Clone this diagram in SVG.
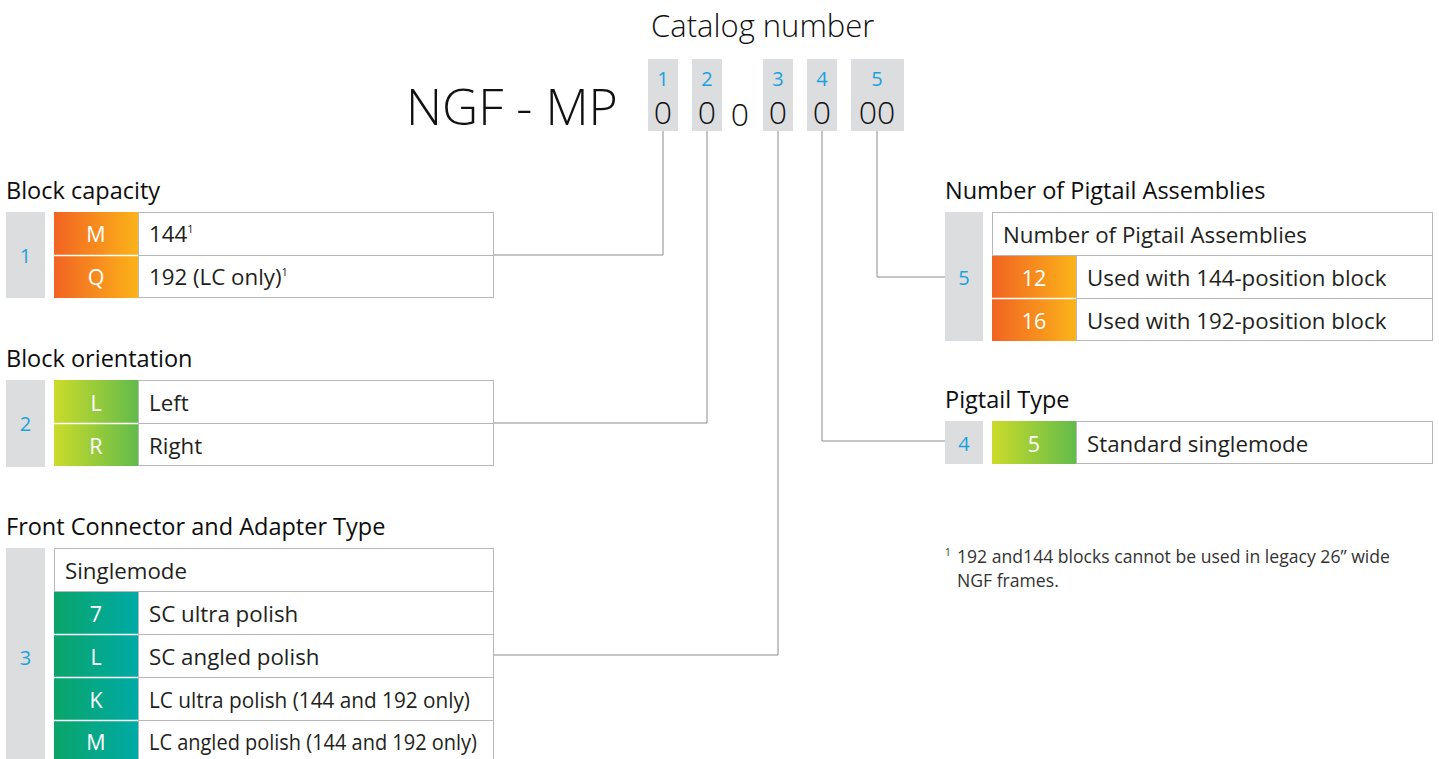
<svg xmlns="http://www.w3.org/2000/svg" width="1439" height="759" viewBox="0 0 1439 759">
<style>
text{font-family:"Open Sans","Noto Sans","Liberation Sans",sans-serif;}
.title{font-size:23.5px;fill:#0d0d0d;}
.cell{font-size:22.3px;fill:#231f20;}
.code{font-size:21.5px;fill:#ffffff;text-anchor:middle;}
.num{font-size:20px;fill:#1ba1dc;text-anchor:middle;}
.gray{fill:#dcdddf;}
.box{fill:#ffffff;stroke:#b8b8b8;stroke-width:1;}
.sep{stroke:#ffffff;stroke-width:1.5;}
.big{font-weight:300;fill:#111;}
.conn{fill:none;stroke:#8c8c8c;stroke-width:1;}
.note{font-size:17.6px;fill:#333;}
</style>
<defs>
<linearGradient id="gOr" x1="0" y1="0" x2="1" y2="0"><stop offset="0" stop-color="#f26322"/><stop offset="1" stop-color="#fbb319"/></linearGradient>
<linearGradient id="gGr" x1="0" y1="0" x2="1" y2="0"><stop offset="0" stop-color="#cbdb2a"/><stop offset="1" stop-color="#62bb4b"/></linearGradient>
<linearGradient id="gTe" x1="0" y1="0" x2="1" y2="0"><stop offset="0" stop-color="#0aa56a"/><stop offset="1" stop-color="#00aaa6"/></linearGradient>
</defs>

<g id="header">
<text x="651" y="37" class="big" font-size="31">Catalog number</text>
<text x="406" y="125" class="big" font-size="50">NGF - MP</text>
<rect class="gray" x="648" y="59" width="30" height="72"/>
<rect class="gray" x="692" y="59" width="30" height="72"/>
<rect class="gray" x="763" y="59" width="30" height="72"/>
<rect class="gray" x="807" y="59" width="30" height="72"/>
<rect class="gray" x="851" y="59" width="53" height="72"/>
<text class="num" x="663" y="86">1</text>
<text class="num" x="707" y="86">2</text>
<text class="num" x="778" y="86">3</text>
<text class="num" x="822" y="86">4</text>
<text class="num" x="877" y="86">5</text>
<g class="big" font-size="32" text-anchor="middle">
<text x="663" y="124">0</text>
<text x="707" y="124">0</text>
<text x="740" y="126">0</text>
<text x="778" y="124">0</text>
<text x="822" y="124">0</text>
<text x="877" y="124">00</text>
</g>
</g>

<g id="connectors">
<polyline class="conn" points="663,131 663,255 494,255"/>
<polyline class="conn" points="707,131 707,423 494,423"/>
<polyline class="conn" points="778,131 778,655 494,655"/>
<polyline class="conn" points="822,131 822,441 945,441"/>
<polyline class="conn" points="877,131 877,277 945,277"/>
</g>

<g id="block-capacity">
<text class="title" x="6" y="199">Block capacity</text>
<rect class="gray" x="6" y="212" width="39" height="86"/>
<text class="num" x="25.5" y="263">1</text>
<rect class="box" x="54.5" y="212.5" width="439" height="85"/>
<rect x="54" y="212" width="84" height="86" fill="url(#gOr)"/>
<line class="sep" x1="54" y1="255.5" x2="138" y2="255.5"/>
<line x1="138" y1="255.5" x2="494" y2="255.5" stroke="#b8b8b8"/>
<line x1="138.5" y1="212" x2="138.5" y2="298" stroke="#b8b8b8"/>
<text class="code" x="96" y="242">M</text>
<text class="code" x="96" y="285">Q</text>
<text class="cell" x="149" y="242">144<tspan font-size="11" dy="-9">1</tspan></text>
<text class="cell" x="149" y="285">192 (LC only)<tspan font-size="11" dy="-9">1</tspan></text>
</g>

<g id="block-orientation">
<text class="title" x="6" y="367">Block orientation</text>
<rect class="gray" x="6" y="380" width="39" height="87"/>
<text class="num" x="25.5" y="431">2</text>
<rect class="box" x="54.5" y="380.5" width="439" height="85"/>
<rect x="54" y="380" width="84" height="86" fill="url(#gGr)"/>
<line class="sep" x1="54" y1="423.5" x2="138" y2="423.5"/>
<line x1="138" y1="423.5" x2="494" y2="423.5" stroke="#b8b8b8"/>
<line x1="138.5" y1="380" x2="138.5" y2="466" stroke="#b8b8b8"/>
<text class="code" x="96" y="411">L</text>
<text class="code" x="96" y="454">R</text>
<text class="cell" x="149" y="411">Left</text>
<text class="cell" x="149" y="454">Right</text>
</g>

<g id="front-connector">
<text class="title" x="6" y="535">Front Connector and Adapter Type</text>
<rect class="gray" x="6" y="548" width="39" height="211"/>
<text class="num" x="25.5" y="665">3</text>
<rect class="box" x="54.5" y="548.5" width="439" height="220"/>
<text class="cell" x="65" y="579">Singlemode</text>
<line x1="54" y1="591.5" x2="494" y2="591.5" stroke="#b8b8b8"/>
<rect x="54" y="592" width="84" height="170" fill="url(#gTe)"/>
<line class="sep" x1="54" y1="634.5" x2="138" y2="634.5"/>
<line class="sep" x1="54" y1="677.5" x2="138" y2="677.5"/>
<line class="sep" x1="54" y1="720.5" x2="138" y2="720.5"/>
<line x1="138" y1="634.5" x2="494" y2="634.5" stroke="#b8b8b8"/>
<line x1="138" y1="677.5" x2="494" y2="677.5" stroke="#b8b8b8"/>
<line x1="138" y1="720.5" x2="494" y2="720.5" stroke="#b8b8b8"/>
<line x1="138.5" y1="591" x2="138.5" y2="762" stroke="#b8b8b8"/>
<text class="code" x="96" y="622">7</text>
<text class="code" x="96" y="665">L</text>
<text class="code" x="96" y="708">K</text>
<text class="code" x="96" y="750">M</text>
<text class="cell" x="149" y="622">SC ultra polish</text>
<text class="cell" x="149" y="665">SC angled polish</text>
<text class="cell" x="149" y="708" textLength="321" lengthAdjust="spacingAndGlyphs">LC ultra polish (144 and 192 only)</text>
<text class="cell" x="149" y="750" textLength="328" lengthAdjust="spacingAndGlyphs">LC angled polish (144 and 192 only)</text>
</g>

<g id="pigtail-assemblies">
<text class="title" x="945" y="199">Number of Pigtail Assemblies</text>
<rect class="gray" x="945" y="212" width="38" height="129"/>
<text class="num" x="964" y="285">5</text>
<rect class="box" x="992.5" y="212.5" width="440" height="128"/>
<text class="cell" x="1003" y="243">Number of Pigtail Assemblies</text>
<line x1="992" y1="255.5" x2="1433" y2="255.5" stroke="#b8b8b8"/>
<rect x="992" y="256" width="84" height="85" fill="url(#gOr)"/>
<line class="sep" x1="992" y1="298.5" x2="1076" y2="298.5"/>
<line x1="1076" y1="298.5" x2="1433" y2="298.5" stroke="#b8b8b8"/>
<line x1="1076.5" y1="255" x2="1076.5" y2="341" stroke="#b8b8b8"/>
<text class="code" x="1034" y="286">12</text>
<text class="code" x="1034" y="329">16</text>
<text class="cell" x="1087" y="286">Used with 144-position block</text>
<text class="cell" x="1087" y="329">Used with 192-position block</text>
</g>

<g id="pigtail-type">
<text class="title" x="945" y="408">Pigtail Type</text>
<rect class="gray" x="945" y="421" width="38" height="43"/>
<text class="num" x="964" y="451">4</text>
<rect class="box" x="992.5" y="421.5" width="440" height="42"/>
<rect x="992" y="421" width="84" height="43" fill="url(#gGr)"/>
<line x1="1076.5" y1="421" x2="1076.5" y2="464" stroke="#b8b8b8"/>
<text class="code" x="1034" y="452">5</text>
<text class="cell" x="1087" y="452">Standard singlemode</text>
</g>

<g id="footnote">
<text x="945" y="556" style="font-size:10px;fill:#333">1</text>
<text class="note" x="957" y="563">192 and144 blocks cannot be used in legacy 26” wide</text>
<text class="note" x="957" y="587">NGF frames.</text>
</g>
</svg>
